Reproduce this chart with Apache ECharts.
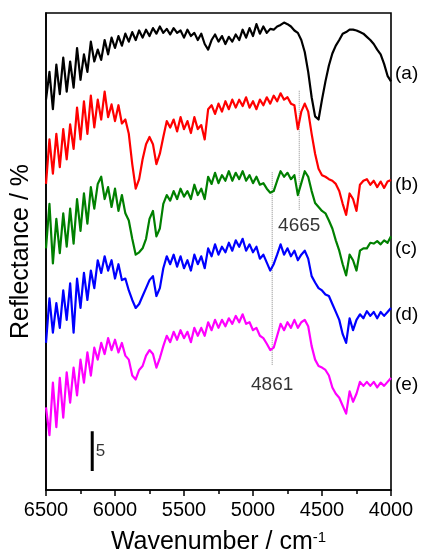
<!DOCTYPE html>
<html>
<head>
<meta charset="utf-8">
<script src="https://cdn.jsdelivr.net/npm/echarts@6/dist/echarts.min.js"></script>
<style>
  html, body { margin: 0; padding: 0; background: #fff; }
  #chart { width: 424px; height: 560px; }
</style>
</head>
<body>
<div id="chart"></div>
<script>
const wavenumbers = [
  6500,6475,6450,6425,6400,6375,6350,6325,6300,6275,
  6250,6225,6200,6175,6150,6125,6100,6075,6050,6025,
  6000,5975,5950,5925,5900,5875,5850,5825,5800,5775,
  5750,5725,5700,5675,5650,5625,5600,5575,5550,5525,
  5500,5475,5450,5425,5400,5375,5350,5325,5300,5275,
  5250,5225,5200,5175,5150,5125,5100,5075,5050,5025,
  5000,4975,4950,4925,4900,4875,4850,4825,4800,4775,
  4750,4725,4700,4675,4650,4625,4600,4575,4550,4525,
  4500,4475,4450,4425,4400,4375,4350,4325,4300,4275,
  4250,4225,4200,4175,4150,4125,4100,4075,4050,4025,
  4000
];

// offset reflectance spectra (%)
const specA = [
  49.1,52.6,47.9,53.5,49.8,54.4,50.1,53.9,50.6,55.6,
  51.6,54.8,52.6,56.4,53.9,55.4,54.1,56.6,54.8,56.9,
  55.6,57.1,55.9,57.4,56.4,57.6,56.6,57.8,56.9,57.9,
  57.1,58.1,57.4,58.3,57.5,58.0,57.3,58.1,57.5,57.8,
  56.9,57.9,57.1,57.5,56.6,57.4,56.1,55.4,56.6,57.3,
  56.4,57.1,56.1,57.0,56.4,57.3,56.6,57.9,56.9,58.1,
  57.1,58.6,57.4,58.3,57.5,58.0,57.9,58.3,58.5,58.8,
  58.6,58.3,57.8,57.5,56.6,55.1,52.6,49.4,47.0,46.6,
  49.1,51.4,53.4,54.9,55.9,56.6,57.4,57.6,57.9,57.9,
  57.8,57.6,57.4,57.0,56.6,56.1,55.4,54.8,53.6,52.1,
  51.4
];
const specB = [
  38.5,44.1,39.8,44.8,40.6,45.4,41.6,46.0,42.9,48.1,
  44.1,48.9,44.8,49.6,45.6,49.1,46.6,50.1,46.9,48.5,
  46.4,48.4,46.1,46.6,44.8,41.0,37.9,39.1,41.6,43.5,
  44.4,43.5,41.0,42.3,44.4,46.4,45.6,46.6,45.1,46.9,
  45.4,46.4,44.9,46.9,45.4,45.9,44.1,47.9,48.4,47.3,
  48.6,47.6,48.9,47.9,49.1,48.1,49.1,48.3,49.4,48.1,
  48.9,47.9,49.1,48.4,49.4,48.6,49.6,48.9,49.9,49.1,
  49.4,48.6,48.4,45.4,47.6,48.6,47.6,44.8,42.3,40.4,
  39.6,39.4,39.1,38.9,38.5,37.6,36.0,34.6,37.3,36.6,
  35.1,38.4,38.9,39.1,38.4,38.9,38.1,38.8,38.0,38.8,
  39.0
];
const specC = [
  30.4,36.0,28.5,34.1,29.8,34.8,30.6,35.4,31.0,36.6,
  32.6,37.3,33.5,38.1,35.4,38.5,39.4,36.6,38.1,35.6,
  37.9,35.1,37.1,34.8,33.9,31.6,29.6,29.9,30.4,31.6,
  34.1,35.1,31.9,32.9,36.0,37.1,36.4,37.6,36.6,37.9,
  36.9,37.6,36.6,38.4,37.1,37.9,36.6,39.4,38.5,39.9,
  38.6,39.6,38.9,40.1,38.9,39.9,39.1,40.1,38.9,39.6,
  38.6,39.4,38.4,38.6,37.9,37.4,37.6,38.9,40.1,39.4,
  39.9,39.1,39.6,37.1,38.6,40.1,39.4,37.6,36.1,35.6,
  35.1,34.8,33.9,32.9,31.4,30.1,28.4,27.0,29.6,28.9,
  27.6,30.1,30.4,30.4,31.1,31.0,31.3,30.9,31.4,31.1,
  31.9
];
const specD = [
  18.5,24.1,19.8,23.5,20.4,25.1,21.4,26.0,19.8,26.6,
  22.9,27.3,23.9,27.6,25.4,28.9,27.3,29.4,27.6,28.9,
  26.6,28.4,26.4,26.6,25.1,23.9,22.9,23.4,24.4,25.4,
  26.4,26.9,24.4,25.4,27.9,29.4,28.4,29.6,28.1,29.4,
  27.9,28.9,27.6,29.6,28.4,29.4,27.9,30.4,29.4,30.9,
  29.6,30.6,29.9,31.1,30.1,31.4,30.6,31.6,30.1,30.9,
  29.9,30.6,29.1,29.6,28.6,27.6,28.4,29.6,30.9,29.6,
  30.4,29.4,30.1,28.9,29.6,30.1,29.1,26.9,26.1,25.4,
  25.1,24.6,24.4,23.4,22.4,21.4,19.6,18.5,21.6,20.1,
  21.4,22.1,21.6,22.5,21.9,22.4,21.6,22.4,21.9,22.4,
  22.9
];
const specE = [
  10.4,6.9,13.5,7.9,14.1,9.1,14.8,11.0,15.4,11.9,
  16.4,13.5,17.3,14.4,17.9,16.4,18.5,17.1,19.1,17.6,
  18.9,17.3,18.5,16.9,16.4,14.4,13.9,15.1,15.6,16.9,
  17.6,17.1,15.4,16.6,18.1,19.4,18.6,19.9,18.9,20.1,
  19.1,19.9,18.6,20.4,19.4,20.4,19.4,21.1,20.1,21.4,
  20.4,21.4,20.6,21.6,20.9,21.9,21.1,22.1,20.9,21.1,
  20.1,20.4,19.4,19.1,18.4,17.6,17.9,19.4,20.9,20.1,
  21.1,20.4,21.4,20.4,21.1,21.4,20.6,18.1,16.4,15.6,
  15.4,15.1,14.4,12.9,12.1,11.6,10.6,9.6,12.4,11.1,
  12.1,13.6,13.1,13.6,13.1,13.6,12.9,13.5,13.1,13.6,
  14.1
];

const curveNames = ['(a)', '(b)', '(c)', '(d)', '(e)'];
const curveColors = ['#000000', '#ff0000', '#008000', '#0000ff', '#ff00ff'];

// marked peaks: [wavenumber, low end, high end, label y]
const peakMarks = [
  [4665, 35.25, 50.25, 33.25],
  [4861, 15.75, 40.0, 13.25]
];

// 5 % scale bar
const scaleBarX = 6165;
const scaleBarY = [2.4, 7.4];
const scaleBarText = '5';

const xTicks = { min: 4000, max: 6500, step: 500 };

const FONT = 'Liberation Sans, Arial, sans-serif';
const chart = echarts.init(document.getElementById('chart'));

const specs = [specA, specB, specC, specD, specE];
const specSeries = specs.map((arr, k) => ({
  name: curveNames[k],
  type: 'line',
  data: wavenumbers.map((w, i) => [w, arr[i]]),
  showSymbol: false,
  symbol: 'none',
  lineStyle: { color: curveColors[k], width: 2.2, join: 'round' },
  z: 3
}));

const peakSeries = peakMarks.map(p => ({
  type: 'line',
  data: [[p[0], p[1]], [p[0], p[2]]],
  symbol: 'none',
  lineStyle: { color: '#8a8a8a', width: 1, type: 'dotted' },
  z: 2
}));

const labelSeries = {
  type: 'scatter',
  symbolSize: 1,
  itemStyle: { color: 'rgba(0,0,0,0)' },
  data: peakMarks.map(p => ({ value: [p[0], p[3]], name: String(p[0]) }))
    .concat([{ value: [scaleBarX - 60, (scaleBarY[0] + scaleBarY[1]) / 2], name: scaleBarText, label: { fontSize: 17 } }]),
  label: {
    show: true,
    position: 'inside',
    formatter: '{b}',
    color: '#000',
    fontFamily: FONT,
    fontSize: 19
  },
  z: 4
};

const scaleSeries = {
  type: 'line',
  data: [[scaleBarX, scaleBarY[0]], [scaleBarX, scaleBarY[1]]],
  symbol: 'none',
  lineStyle: { color: '#000', width: 3 },
  z: 4
};

const labelY = [75, 186, 250, 316, 386];

chart.setOption({
  animation: false,
  backgroundColor: '#fff',
  grid: {
    left: 46, right: 33, top: 13, bottom: 67,
    show: true, borderColor: '#000', borderWidth: 1.6
  },
  xAxis: {
    type: 'value',
    inverse: true,
    min: xTicks.min,
    max: xTicks.max,
    interval: xTicks.step,
    name: 'Wavenumber / cm{sup|-1}',
    nameLocation: 'middle',
    nameGap: 40,
    nameTextStyle: {
      fontFamily: FONT, fontSize: 25, color: '#000',
      rich: { sup: { fontFamily: FONT, fontSize: 15, color: '#000', verticalAlign: 'top', padding: [0, 0, 10, 0] } }
    },
    axisLine: { lineStyle: { color: '#000', width: 1.6 } },
    axisTick: { inside: false, length: 6, lineStyle: { color: '#000', width: 1.5 } },
    minorTick: { show: true, splitNumber: 2, length: 4, lineStyle: { color: '#000', width: 1.5 } },
    axisLabel: {
      fontFamily: FONT, fontSize: 20, color: '#000', margin: 10,
      formatter: v => String(v)
    },
    splitLine: { show: false }
  },
  yAxis: {
    type: 'value',
    min: 0,
    max: 60,
    name: 'Reflectance / %',
    nameLocation: 'middle',
    nameGap: 12,
    nameTextStyle: { fontFamily: FONT, fontSize: 25, color: '#000' },
    axisLine: { show: true, lineStyle: { color: '#000', width: 1.6 } },
    axisTick: { show: false },
    axisLabel: { show: false },
    splitLine: { show: false }
  },
  graphic: curveNames.map((t, k) => ({
    type: 'text',
    left: 395,
    top: labelY[k] - 11,
    style: { text: t, fontFamily: FONT, fontSize: 19, fill: '#000' }
  })),
  series: specSeries.concat(peakSeries, [scaleSeries, labelSeries])
});
</script>
</body>
</html>
